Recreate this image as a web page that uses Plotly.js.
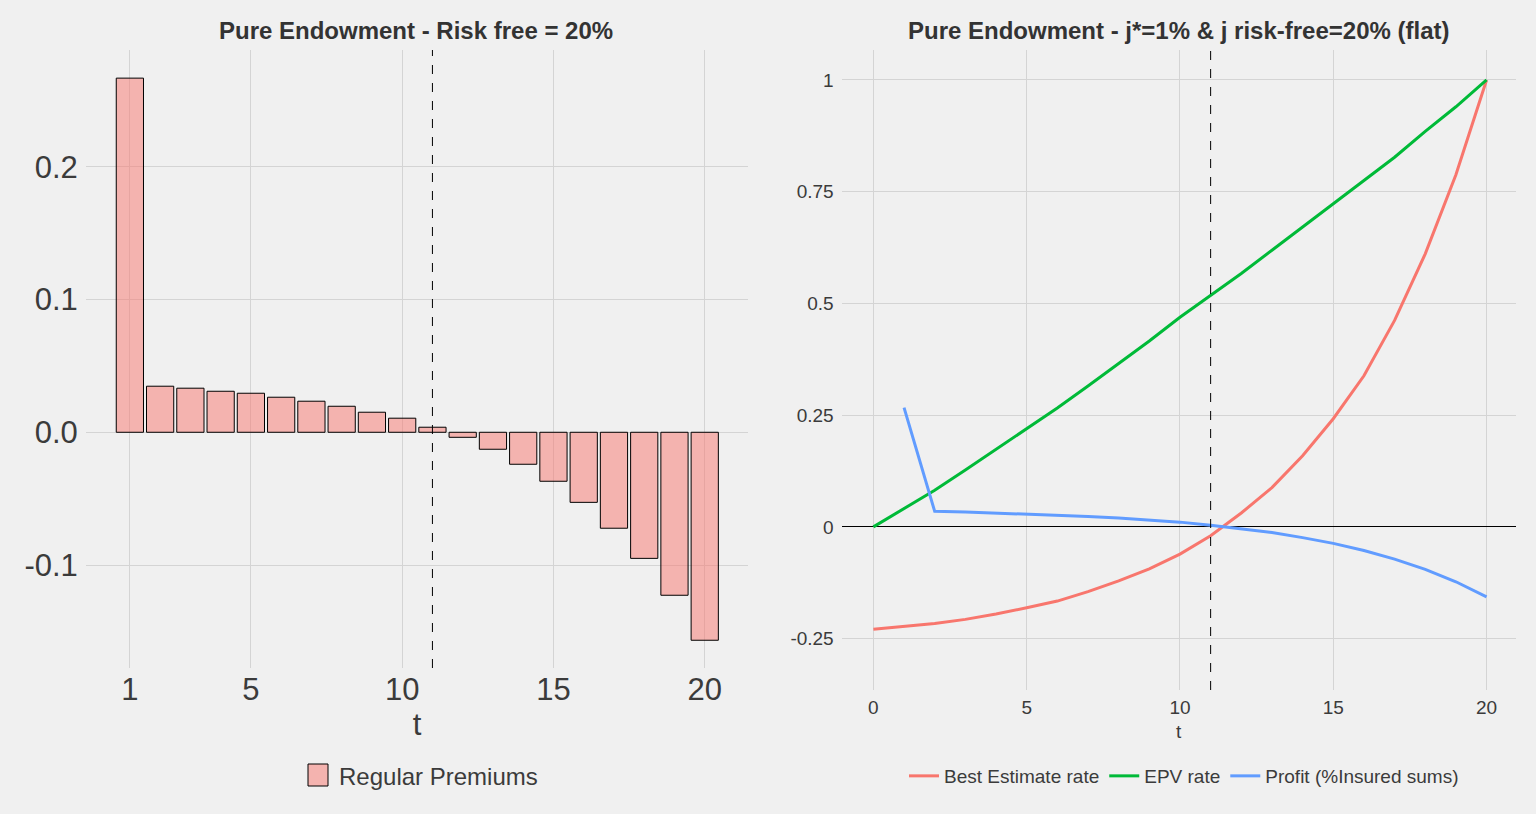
<!DOCTYPE html>
<html><head><meta charset="utf-8">
<script src="https://cdn.plot.ly/plotly-3.0.1.min.js"></script>
<style>html,body{margin:0;padding:0;background:#f0f0f0;}#chart{width:1536px;height:814px;}</style>
</head><body><div id="chart"></div>
<script>
// ---- data ----
const periods = [1,2,3,4,5,6,7,8,9,10,11,12,13,14,15,16,17,18,19,20];
const profit = [0.2668,0.0347,0.0332,0.0309,0.0294,0.0264,0.0234,0.0196,0.0151,0.0106,
                0.0038,-0.0038,-0.0128,-0.0241,-0.0369,-0.0528,-0.0723,-0.0950,-0.1228,-0.1567];
const lineT = [0,1,2,3,4,5,6,7,8,9,10,11,12,13,14,15,16,17,18,19,20];
const bestEstimate = [-0.229,-0.223,-0.216,-0.207,-0.195,-0.181,-0.166,-0.145,-0.121,-0.094,
                      -0.061,-0.020,0.031,0.088,0.159,0.242,0.338,0.462,0.611,0.788,1.0];
const epvRate = [0,0.041,0.082,0.127,0.173,0.219,0.266,0.315,0.365,0.416,
                 0.469,0.518,0.567,0.619,0.671,0.722,0.774,0.827,0.885,0.940,1.0];
const leftXTicks = [1,5,10,15,20];
const leftYTicks = [-0.1,0,0.1,0.2];
const leftYTickText = ["-0.1","0.0","0.1","0.2"];
const rightXTicks = [0,5,10,15,20];
const rightYTicks = [-0.25,0,0.25,0.5,0.75,1];
const rightYTickText = ["-0.25","0","0.25","0.5","0.75","1"];
const cutoffT = 11;
const leftTitle = "Pure Endowment - Risk free = 20%";
const rightTitle = "Pure Endowment - j*=1% & j risk-free=20% (flat)";
const barLegendLabel = "Regular Premiums";

const FONT = "Liberation Sans, Arial, sans-serif";
const TXT = "#3b3b3b";
const GRID = "#d4d4d4";
const BARFILL = 'rgba(248,118,109,0.5)';
const W = 1536, H = 814;
const px = v => v / W;
const py = v => 1 - v / H;

const traces = [
  {type:'bar', x:periods, y:profit, xaxis:'x', yaxis:'y', width:0.9,
   name:barLegendLabel, showlegend:false,
   marker:{color:BARFILL, line:{color:'#000', width:1}}},
  {type:'scatter', mode:'lines', x:lineT, y:bestEstimate, xaxis:'x2', yaxis:'y2',
   name:'Best Estimate rate', legend:'legend2', line:{color:'#F8766D', width:3}},
  {type:'scatter', mode:'lines', x:lineT, y:epvRate, xaxis:'x2', yaxis:'y2',
   name:'EPV rate', legend:'legend2', line:{color:'#00BA38', width:3}},
  {type:'scatter', mode:'lines', x:periods, y:profit, xaxis:'x2', yaxis:'y2',
   name:'Profit (%Insured sums)', legend:'legend2', line:{color:'#619CFF', width:3}}
];

const axBase = {showline:false, gridcolor:GRID, gridwidth:1, zeroline:false,
  ticks:'outside', tickcolor:'rgba(0,0,0,0)', color:TXT};

const layout = {
  width:W, height:H,
  paper_bgcolor:'#f0f0f0', plot_bgcolor:'#f0f0f0',
  margin:{l:0,r:0,t:0,b:0},
  font:{family:FONT, color:TXT},
  bargap:0,
  xaxis:Object.assign({}, axBase, {domain:[px(86),px(748)], range:[-0.45,21.43], anchor:'y',
    tickvals:leftXTicks, ticklen:4, ticklabelstandoff:-10, tickfont:{size:31, color:TXT},
    title:{text:'t', font:{size:31, color:TXT}, standoff:2}}),
  yaxis:Object.assign({}, axBase, {domain:[py(668),py(50)], range:[-0.1776,0.288], anchor:'x',
    tickvals:leftYTicks, ticktext:leftYTickText, ticklen:6, ticklabelstandoff:-5,
    tickfont:{size:31, color:TXT}}),
  xaxis2:Object.assign({}, axBase, {domain:[px(841.5),px(1516)], range:[-1.04,20.96], anchor:'y2',
    tickvals:rightXTicks, ticklen:6, ticklabelstandoff:-6, tickfont:{size:19, color:TXT},
    title:{text:'t', font:{size:19, color:TXT}, standoff:7}}),
  yaxis2:Object.assign({}, axBase, {domain:[py(690),py(50)], range:[-0.365,1.067], anchor:'x2',
    tickvals:rightYTicks, ticktext:rightYTickText, ticklen:6, ticklabelstandoff:-3,
    tickfont:{size:19, color:TXT},
    zeroline:true, zerolinecolor:'#000', zerolinewidth:1}),
  legend2:{orientation:'h', x:px(1184), xanchor:'center', y:py(776), yanchor:'middle',
    bgcolor:'rgba(0,0,0,0)', font:{size:19, color:TXT}},
  shapes:[
    {type:'line', xref:'x', yref:'y domain', x0:cutoffT, x1:cutoffT, y0:0, y1:1,
     line:{color:'#000', width:1, dash:'dash'}},
    {type:'line', xref:'x2', yref:'y2 domain', x0:cutoffT, x1:cutoffT, y0:0, y1:1,
     line:{color:'#000', width:1, dash:'dash'}},
    // legend key for the bar series
    {type:'rect', xref:'paper', yref:'paper', x0:px(308), x1:px(328), y0:py(786), y1:py(764),
     fillcolor:BARFILL, line:{color:'#000', width:1}}
  ],
  annotations:[
    {text:'<b>'+leftTitle+'</b>', xref:'paper', yref:'paper', x:px(416), y:py(30),
     xanchor:'center', yanchor:'middle', showarrow:false, font:{size:24, color:'#333'}},
    {text:'<b>'+rightTitle+'</b>', xref:'paper', yref:'paper', x:px(1179), y:py(30),
     xanchor:'center', yanchor:'middle', showarrow:false, font:{size:24, color:'#333'}},
    {text:barLegendLabel, xref:'paper', yref:'paper', x:px(337), y:py(776),
     xanchor:'left', yanchor:'middle', showarrow:false, font:{size:24, color:TXT}}
  ],
  showlegend:true
};

Plotly.newPlot('chart', traces, layout, {displayModeBar:false, staticPlot:true});
</script>
</body></html>
